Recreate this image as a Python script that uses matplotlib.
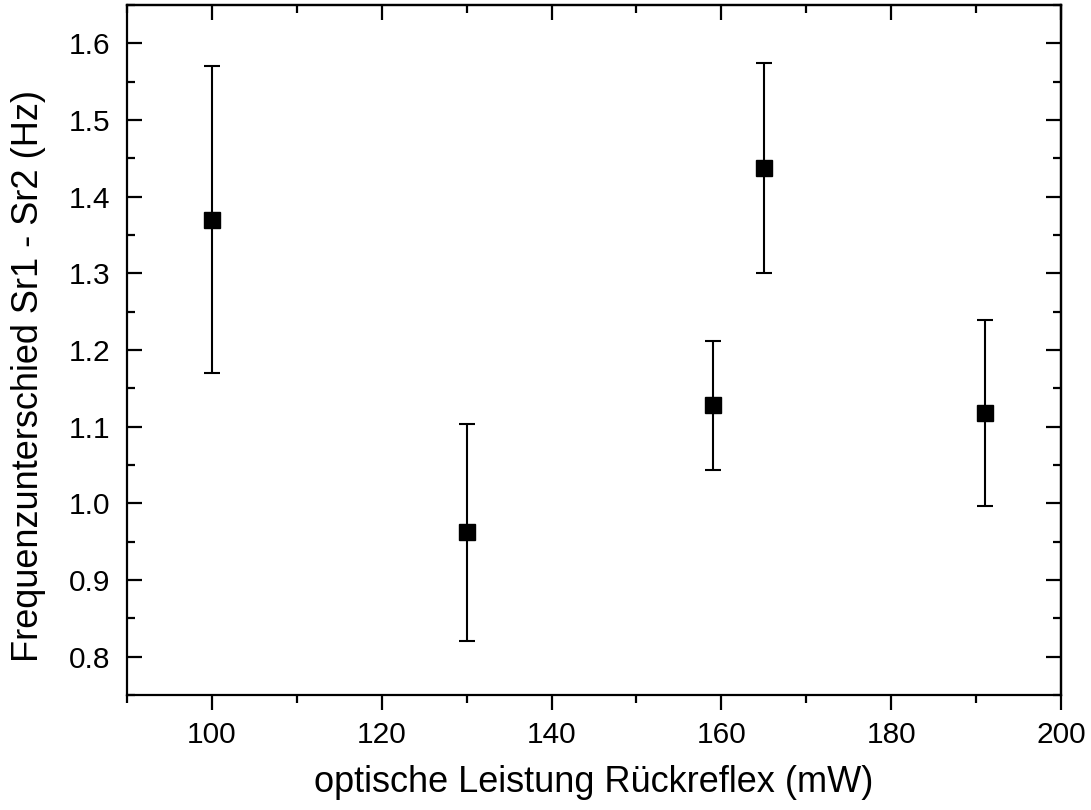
import matplotlib
matplotlib.use("Agg")
import matplotlib.pyplot as plt
from matplotlib.ticker import MultipleLocator

power = [100, 130, 159, 165, 191]
freq_diff = [1.370, 0.962, 1.128, 1.437, 1.118]
err = [0.200, 0.141, 0.084, 0.137, 0.121]

plt.rcParams['font.family'] = ['Liberation Sans', 'DejaVu Sans']

fig = plt.figure(figsize=(10.91, 8.10), dpi=100)
ax = fig.add_axes([127/1091, 1-695/810, (1061-127)/1091, (695-5)/810])

ax.errorbar(power, freq_diff, yerr=err, fmt='s', color='black', ms=11,
            elinewidth=1.5, capsize=5.5, capthick=1.5, ecolor='black')

ax.set_xlim(90, 200)
ax.set_ylim(0.75, 1.65)
ax.xaxis.set_major_locator(MultipleLocator(20))
ax.xaxis.set_minor_locator(MultipleLocator(10))
ax.yaxis.set_major_locator(MultipleLocator(0.1))
ax.yaxis.set_minor_locator(MultipleLocator(0.05))
ax.yaxis.set_major_formatter(matplotlib.ticker.FormatStrFormatter('%.1f'))

for s in ax.spines.values():
    s.set_linewidth(1.6)

ax.tick_params(axis='x', which='both', direction='out', top=False, width=1.6, labelsize=21.5, pad=8)
ax.tick_params(axis='y', which='both', direction='in', right=False, width=1.6, labelsize=21.5, pad=12)
ax.tick_params(which='major', length=11)
ax.tick_params(which='minor', length=6)

# top and right ticks pointing inward
sx = ax.secondary_xaxis('top')
sx.xaxis.set_major_locator(MultipleLocator(20))
sx.xaxis.set_minor_locator(MultipleLocator(10))
sx.tick_params(which='both', direction='in', labeltop=False, width=1.6)
sx.tick_params(which='major', length=11)
sx.tick_params(which='minor', length=6)
sy = ax.secondary_yaxis('right')
sy.yaxis.set_major_locator(MultipleLocator(0.1))
sy.yaxis.set_minor_locator(MultipleLocator(0.05))
sy.tick_params(which='both', direction='in', labelright=False, width=1.6)
sy.tick_params(which='major', length=11)
sy.tick_params(which='minor', length=6)
for a in (sx, sy):
    for s in a.spines.values():
        s.set_linewidth(1.6)

ax.set_xlabel('optische Leistung Rückreflex (mW)', fontsize=26, labelpad=11)
ax.set_ylabel('Frequenzunterschied Sr1 - Sr2 (Hz)', fontsize=26, labelpad=16.5)
ax.yaxis.label.set_y(0.463)

fig.savefig('out.png', dpi=100)
